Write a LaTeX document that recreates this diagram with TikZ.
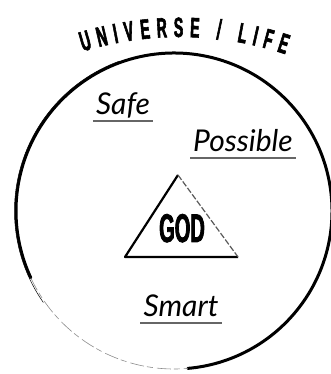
\documentclass[tikz,border=0pt]{standalone}
\usepackage{fontspec}
\newfontfamily\condfont[FakeStretch=0.5, FakeBold=2]{Liberation Sans Bold}
\newfontfamily\handfont{Lato}
\usetikzlibrary{decorations.text}

\begin{document}
\begin{tikzpicture}[x=1pt, y=1pt,
	rim/.style={line width=3pt, line cap=round},
	faint/.style={line width=0.6pt, black!45, dash pattern=on 14pt off 3pt on 6pt off 4pt},
	hand/.style={font=\handfont\itshape\fontsize{30}{30}\selectfont, inner sep=0pt, anchor=base},
	uline/.style={line width=1.4pt, black!60}]
	\useasboundingbox (0,0) rectangle (331,374);
	
	% Outer circle, heavy on the right, fading at the lower left
	\coordinate (c) at (174,163);
	\draw[rim] ([shift={(-85:158)}]c) arc[start angle=-85, end angle=205, radius=158];
	\draw[line width=0.5pt] ([shift={(110:159.5)}]c) arc[start angle=110, end angle=215, radius=159.5];
	\draw[faint] ([shift={(205:158)}]c) arc[start angle=205, end angle=275, radius=158];
	
	% Title along the top
	\path[decorate, decoration={text along path, text align={fit to path},
		text={|\condfont\fontsize{28}{28}\selectfont|UNIVERSE / LIFE}}]
		([shift={(107:332)}]180,5) arc[start angle=107, end angle=71.5, radius=332];
	
	% Words
	\node[hand] (safe) at (123,259) {Safe};
	\draw[uline] ([shift={(-3,-6)}]safe.base west) -- ([shift={(3,-6)}]safe.base east);
	\node[hand] (possible) at (243,222) {Possible};
	\draw[uline] ([shift={(-3,-6)}]possible.base west) -- ([shift={(3,-6)}]possible.base east);
	\node[hand] (smart) at (181,57) {Smart};
	\draw[uline] ([shift={(-3,-6)}]smart.base west) -- ([shift={(3,-6)}]smart.base east);
	
	% Triangle
	\coordinate (apex) at (178,199);
	\coordinate (bl) at (125,117);
	\coordinate (br) at (238,117);
	\draw[line width=2.2pt, line join=round] (br) -- (bl) -- (apex);
	\draw[line width=1.2pt, black!65, dash pattern=on 6pt off 2pt] (apex) -- (br);
	\node[font=\condfont\fontsize{40}{40}\selectfont, inner sep=0pt, anchor=base] (god) at (182,132) {GOD};
\end{tikzpicture}
\end{document}
